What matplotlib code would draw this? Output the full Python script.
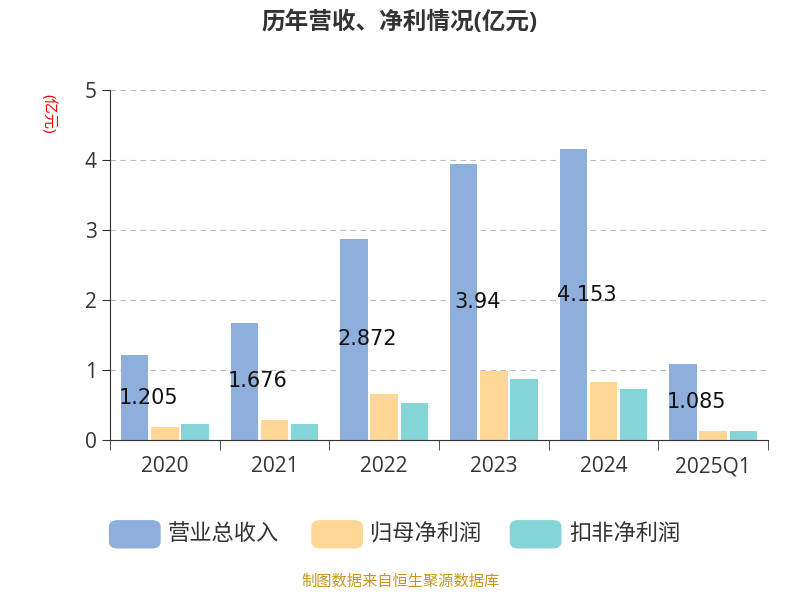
import matplotlib
matplotlib.use("Agg")
import matplotlib.pyplot as plt
import numpy as np
from matplotlib.patches import FancyBboxPatch

plt.rcParams['font.family'] = ['Open Sans', 'Noto Sans CJK SC', 'DejaVu Sans']

categories = ["2020", "2021", "2022", "2023", "2024", "2025Q1"]
revenue = [1.205, 1.676, 2.872, 3.94, 4.153, 1.085]
net_profit = [0.19, 0.28, 0.66, 0.98, 0.82, 0.12]
deducted = [0.22, 0.23, 0.52, 0.87, 0.73, 0.12]
series_names = ["营业总收入", "归母净利润", "扣非净利润"]
colors = ["#8eaedb", "#fed797", "#85d4d7"]

fig = plt.figure(figsize=(8, 6), dpi=100)
ax = fig.add_axes([0.1375, 0.267, 0.8225, 0.583])
x = np.arange(len(categories))
w = 0.25
off = 0.275
for vals, dx, c in zip([revenue, net_profit, deducted], [-off, 0, off], colors):
    ax.bar(x + dx, vals, w, color=c)
for xi, v in zip(x, revenue):
    ax.text(xi - 0.15, v / 2, f"{v:g}", ha='center', va='center', fontsize=15, color='#111111',
            family=['DejaVu Sans'])

ax.set_xlim(-0.5, len(categories) - 0.5)
ax.set_ylim(0, 5)
ax.set_yticks(range(6))
ax.set_xticks(x)
ax.set_xticklabels(categories)
ax.tick_params(axis='both', labelsize=15, colors='#333333', length=6)
ax.tick_params(axis='x', pad=12)
ax.grid(axis='y', linestyle=(0, (5, 4)), color='#bbbbbb')
ax.set_axisbelow(True)
for s in ['top', 'right']:
    ax.spines[s].set_visible(False)
ax.spines['left'].set_color('#333333')
ax.spines['bottom'].set_color('#333333')
ax.set_xticks(np.arange(len(categories) + 1) - 0.5, minor=True)
ax.tick_params(axis='x', which='major', length=0)
ax.tick_params(axis='x', which='minor', length=7, color='#333333')

fig.text(0.5, 0.962, "历年营收、净利情况(亿元)", ha='center', va='center', fontsize=17, fontweight='bold', color='#333333')
fig.text(0.06, 0.81, "(亿元)", rotation=-90, ha='center', va='center', fontsize=11, color='red')

lx = [0.137, 0.39, 0.638]
for px, name, c in zip(lx, series_names, colors):
    fig.patches.append(FancyBboxPatch((px, 0.087), 0.063, 0.045, boxstyle="round,pad=0,rounding_size=0.01",
                                      transform=fig.transFigure, color=c))
    fig.text(px + 0.073, 0.109, name, ha='left', va='center', fontsize=16, color='#333333')

fig.text(0.5, 0.017, "制图数据来自恒生聚源数据库", ha='center', va='bottom', fontsize=11, color='#c8961e')
fig.savefig("out.png")
